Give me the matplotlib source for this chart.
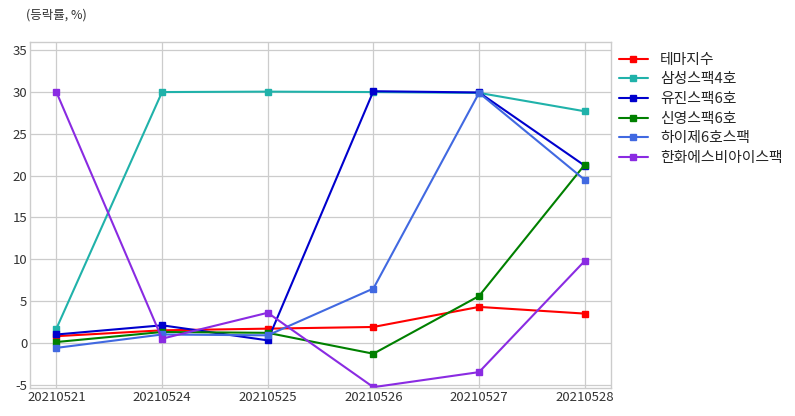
import matplotlib
matplotlib.use("Agg")
import matplotlib.pyplot as plt

plt.style.use("seaborn-v0_8-whitegrid")
plt.rcParams['font.family'] = ['Noto Sans CJK KR', 'DejaVu Sans']
plt.rcParams['axes.unicode_minus'] = False

# 날짜
dates = ["20210521", "20210524", "20210525", "20210526", "20210527", "20210528"]

# 종목별 등락률
tema = [0.8, 1.5, 1.7, 1.9, 4.3, 3.5]
samsung4 = [1.7, 30.0, 30.05, 30.0, 29.9, 27.7]
eugene6 = [1.0, 2.1, 0.3, 30.1, 29.95, 21.2]
shinyoung6 = [0.1, 1.3, 1.2, -1.3, 5.6, 21.3]
hi6 = [-0.6, 1.0, 0.9, 6.5, 29.9, 19.5]
hanwha = [30.0, 0.5, 3.6, -5.3, -3.5, 9.8]

names = ["테마지수", "삼성스팩4호", "유진스팩6호", "신영스팩6호", "하이제6호스팩", "한화에스비아이스팩"]
series = [tema, samsung4, eugene6, shinyoung6, hi6, hanwha]
colors = ["red", "lightseagreen", "mediumblue", "green", "royalblue", "blueviolet"]

fig = plt.figure(figsize=(7.95, 4.16), dpi=100)
ax = fig.add_axes([0.0377, 0.0673, 0.731, 0.832])

for name, vals, c in zip(names, series, colors):
    ax.plot(dates, vals, color=c, marker="s", markersize=4.5, linewidth=1.5, label=name)

ax.set_ylim(-5.4, 36)
ax.set_yticks([-5, 0, 5, 10, 15, 20, 25, 30, 35])
ax.tick_params(axis="both", labelsize=9.5, colors="#333333", pad=2)
ax.grid(True, color="#cccccc", linewidth=0.9)
for s in ax.spines.values():
    s.set_visible(True)
    s.set_color("#cccccc")
    s.set_linewidth(1.0)

ax.legend(loc="upper left", bbox_to_anchor=(1.0, 0.99), frameon=False, fontsize=10.7,
          handlelength=2.0, handletextpad=0.8, labelspacing=0.38, borderaxespad=0.1)

fig.text(0.033, 0.963, "(등락률, %)", fontsize=9, color="#333333", va="center")

fig.savefig("out.png", dpi=100)
